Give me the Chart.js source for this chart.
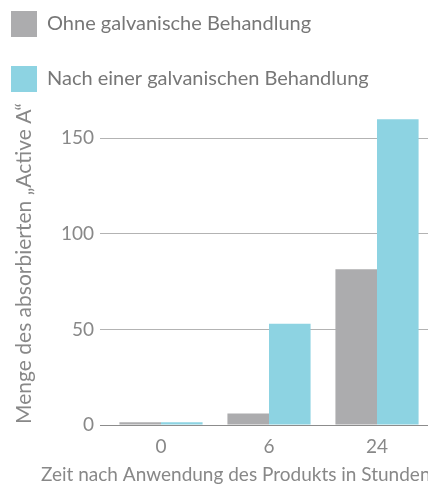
<!DOCTYPE html>
<html>
<head>
<meta charset="utf-8">
<script src="https://cdn.jsdelivr.net/npm/chart.js@4"></script>
<style>
  html, body { margin: 0; padding: 0; background: #fff; overflow: hidden; }
  #clip { width: 428px; height: 484px; overflow: hidden; }
  #box { width: 432px; height: 484px; }
</style>
</head>
<body>
<div id="clip"><div id="box"><canvas id="myChart"></canvas></div></div>
<script>
// Daten
const stunden = ['0', '6', '24'];
const ohneGalvanisch = [1.5, 6, 81.5];
const nachGalvanisch = [1.5, 53, 160];
const yTicks = [0, 50, 100, 150];
const xTitel = 'Zeit nach Anwendung des Produkts in Stunden';

const grau = '#acacae';
const blau = '#8dd3e2';
const schrift = 'Lato, "Noto Sans", sans-serif';

// x-Achsentitel ohne maxWidth-Stauchung zeichnen
const xTitelPlugin = {
    id: 'xTitel',
    afterDraw(chart) {
        const c = chart.ctx;
        c.save();
        c.font = '19px ' + schrift;
        c.fillStyle = '#888';
        c.textAlign = 'left';
        c.textBaseline = 'alphabetic';
        c.fillText(xTitel, 41, 481);
        c.restore();
    }
};

const ctx = document.getElementById('myChart').getContext('2d');
const myChart = new Chart(ctx, {
    type: 'bar',
    data: {
        labels: stunden,
        datasets: [{
            label: 'Ohne galvanische Behandlung',
            data: ohneGalvanisch,
            backgroundColor: grau
        },
        {
            label: 'Nach einer galvanischen Behandlung',
            data: nachGalvanisch,
            backgroundColor: blau
        }]
    },
    plugins: [xTitelPlugin],
    options: {
        responsive: true,
        maintainAspectRatio: false,
        animation: false,
        layout: {
            padding: { top: -18, left: -18, right: 1, bottom: -2 }
        },
        datasets: {
            bar: { barPercentage: 1, categoryPercentage: 0.77 }
        },
        plugins: {
            tooltip: { enabled: false },
            legend: {
                position: 'top',
                align: 'start',
                labels: {
                    boxWidth: 26,
                    boxHeight: 26,
                    padding: 29,
                    color: '#777',
                    font: { family: schrift, size: 20 }
                }
            }
        },
        scales: {
            x: {
                grid: { display: false, drawTicks: false },
                border: { display: false },
                ticks: {
                    color: '#888',
                    padding: 10,
                    font: { family: schrift, size: 19 }
                },
                afterFit: (s) => { s.height = 61; }
            },
            y: {
                min: 0,
                max: 169,
                border: { display: false },
                grid: {
                    color: (c) => c.tick && c.tick.value === 0 ? '#8c8c8c' : '#b3b3b3',
                    lineWidth: 1,
                    tickLength: 7
                },
                ticks: {
                    stepSize: 50,
                    color: '#888',
                    padding: 6,
                    font: { family: schrift, size: 19 }
                },
                afterBuildTicks: (s) => {
                    s.ticks = yTicks.map(v => ({ value: v }));
                },
                title: {
                    display: true,
                    text: 'Menge des absorbierten „Active A“',
                    color: '#888',
                    padding: { top: 30, bottom: 0 },
                    font: { family: schrift, size: 21 }
                },
                afterFit: (s) => { s.width = 125; }
            }
        }
    }
});
</script>
</body>
</html>
